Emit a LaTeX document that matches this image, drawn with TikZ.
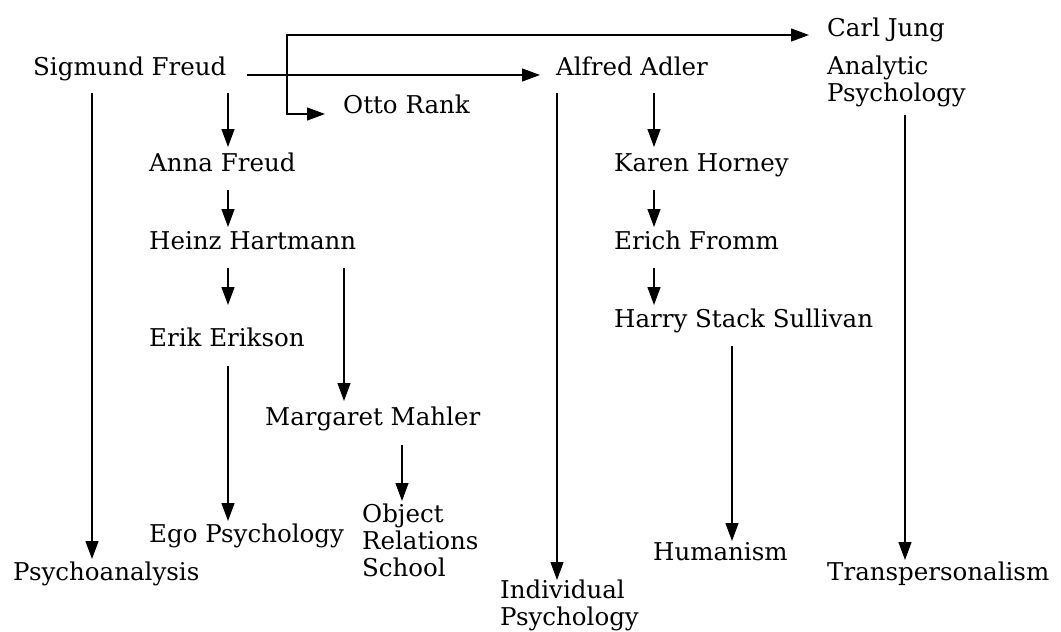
\documentclass[tikz,border=0pt]{standalone}
\usepackage{fontspec}
\setmainfont{DejaVu Serif}
\usetikzlibrary{arrows.meta,calc}
\begin{document}
\begin{tikzpicture}[x=1pt,y=-1pt,
  lbl/.style={anchor=base west,inner sep=0pt,font=\fontsize{24.5}{27}\selectfont},
  % multi-line labels: the base anchor sits on the last line
  multi/.style={lbl,align=left},
  arr/.style={line width=1.2pt,-{Triangle[length=18pt,width=13pt]}}]
\fill[white] (0,0) rectangle (1061,632);
\useasboundingbox (0,0) rectangle (1061,632);

% names
\node[lbl] (freud)    at (33,75)   {Sigmund Freud};
\node[lbl] (rank)     at (343,113) {Otto Rank};
\node[lbl] (adler)    at (556,75)  {Alfred Adler};
\node[lbl] (jung)     at (827,36)  {Carl Jung};
\node[multi] (analytic) at (827,101) {Analytic\\Psychology};
\node[lbl] (anna)     at (149,171) {Anna Freud};
\node[lbl] (heinz)    at (149,249) {Heinz Hartmann};
\node[lbl] (erik)     at (149,346) {Erik Erikson};
\node[lbl] (mahler)   at (265,425) {Margaret Mahler};
\node[lbl] (karen)    at (614,171) {Karen Horney};
\node[lbl] (erich)    at (614,249) {Erich Fromm};
\node[lbl] (sullivan) at (614,327) {Harry Stack Sullivan};

% schools
\node[lbl] (psycho)   at (13,580)  {Psychoanalysis};
\node[lbl] (ego)      at (149,542) {Ego Psychology};
\node[multi] (ors)    at (362,576) {Object\\Relations\\School};
\node[multi] (indiv)  at (500,625) {Individual\\Psychology};
\node[lbl] (human)    at (653,560) {Humanism};
\node[lbl] (transp)   at (827,580) {Transpersonalism};

% Freud's line
\draw[arr] ($(freud.base west)+(214,0)$) -- ($(adler.base west)+(-16,0)$);
\coordinate (br) at ($(freud.base west)+(254,0)$);
\draw[arr] (br) |- ($(jung.base west)+(-18,-1)$);
\draw[arr] (br) |- ($(rank.base west)+(-18,1)$);
\draw[arr] ($(freud.base west)+(59,18)$) -- ($(psycho.base west)+(79,-21)$);
\draw[arr] ($(freud.base west)+(195,18)$) -- ($(anna.base west)+(79,-24)$);
\draw[arr] ($(anna.base west)+(79,19)$) -- ($(heinz.base west)+(79,-22)$);
\draw[arr] ($(heinz.base west)+(79,19)$) -- ($(erik.base west)+(79,-41)$);
\draw[arr] ($(heinz.base west)+(195,19)$) -- ($(mahler.base west)+(79,-24)$);
\draw[arr] ($(erik.base west)+(79,20)$) -- ($(ego.base west)+(79,-21)$);
\draw[arr] ($(mahler.base west)+(137,20)$) -- ($(ors.base west)+(40,-75)$);

% Adler's line
\draw[arr] ($(adler.base west)+(1,18)$) -- ($(indiv.base west)+(57,-45)$);
\draw[arr] ($(adler.base west)+(98,18)$) -- ($(karen.base west)+(40,-24)$);
\draw[arr] ($(karen.base west)+(40,19)$) -- ($(erich.base west)+(40,-22)$);
\draw[arr] ($(erich.base west)+(40,19)$) -- ($(sullivan.base west)+(40,-22)$);
\draw[arr] ($(sullivan.base west)+(118,19)$) -- ($(human.base west)+(79,-19)$);

% Jung's line
\draw[arr] ($(analytic.base west)+(78,14)$) -- ($(transp.base west)+(78,-20)$);
\end{tikzpicture}
\end{document}
